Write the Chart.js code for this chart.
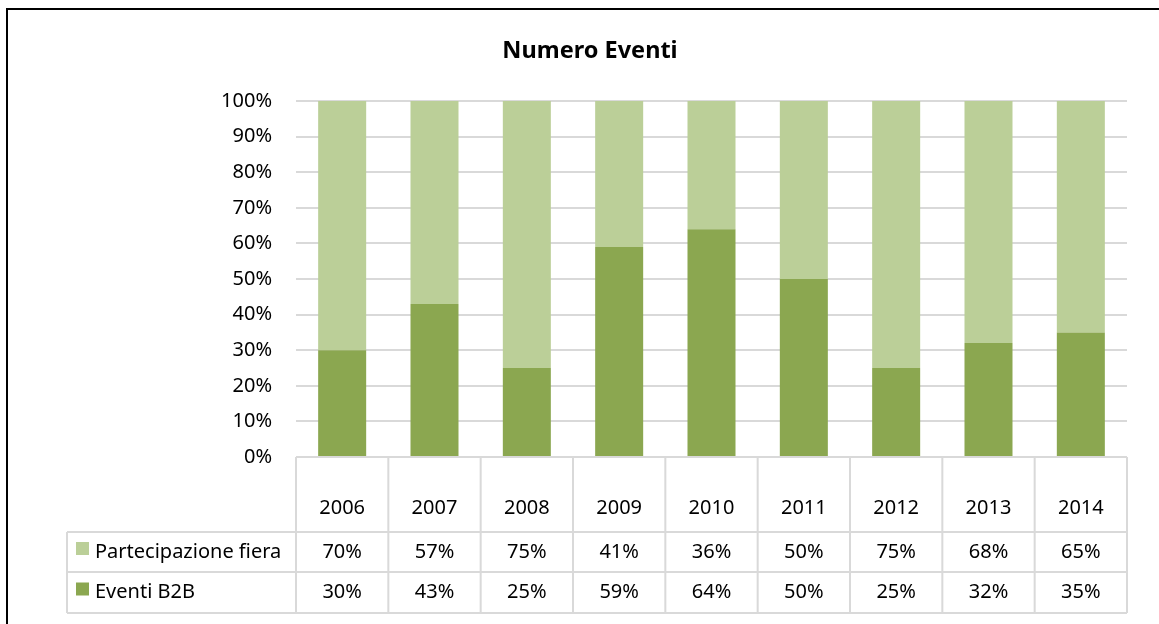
<!DOCTYPE html>
<html>
<head>
<meta charset="utf-8">
<script src="https://cdn.jsdelivr.net/npm/chart.js@4/dist/chart.umd.min.js"></script>
<style>
  html, body { margin: 0; padding: 0; background: #fff; }
  #chart { display: block; }
</style>
</head>
<body>
<canvas id="chart" width="1159" height="624"></canvas>
<script>
var years = ['2006', '2007', '2008', '2009', '2010', '2011', '2012', '2013', '2014'];
var eventiB2B = [30, 43, 25, 59, 64, 50, 25, 32, 35];
var fiera = [70, 57, 75, 41, 36, 50, 75, 68, 65];
var yTicks = [0, 10, 20, 30, 40, 50, 60, 70, 80, 90, 100];

var FONT = "'Noto Sans', 'Open Sans', sans-serif";
var DARK = '#8BA750';
var LIGHT = '#BBCF98';
var LINE = '#d9d9d9';

// border, title and the data table under the plot
var tablePlugin = {
	id: 'dataTable',
	afterDraw: function(chart) {
		var ctx = chart.ctx;
		var xs = chart.scales.x;
		var area = chart.chartArea;
		var step = xs.getPixelForValue(1) - xs.getPixelForValue(0);
		var left = area.left, right = area.right, top = area.bottom;
		var legendLeft = 67;
		var rowLines = [532, 572, 613];

		ctx.save();
		// outer frame (only top and left edges fall inside the picture)
		ctx.strokeStyle = '#000';
		ctx.lineWidth = 2;
		ctx.strokeRect(7, 9, 1165, 630);

		// title
		ctx.fillStyle = '#000';
		ctx.font = 'bold 23.5px ' + FONT;
		ctx.textAlign = 'center';
		ctx.textBaseline = 'middle';
		ctx.fillText('Numero Eventi', 590, 51);

		// grid of the table
		ctx.strokeStyle = LINE;
		ctx.lineWidth = 2;
		ctx.beginPath();
		ctx.moveTo(left, top); ctx.lineTo(right, top);
		for (var r = 0; r < rowLines.length; r++) {
			ctx.moveTo(legendLeft, rowLines[r]); ctx.lineTo(right, rowLines[r]);
		}
		for (var i = 0; i <= years.length; i++) {
			var xe = xs.getPixelForValue(0) - step / 2 + i * step;
			ctx.moveTo(xe, top); ctx.lineTo(xe, rowLines[2]);
		}
		ctx.moveTo(legendLeft, rowLines[0]); ctx.lineTo(legendLeft, rowLines[2]);
		ctx.stroke();

		// texts
		ctx.font = '20px ' + FONT;
		ctx.fillStyle = '#000';
		var rowMid = [(top + rowLines[0]) / 2 + 14, (rowLines[0] + rowLines[1]) / 2, (rowLines[1] + rowLines[2]) / 2];
		for (var i = 0; i < years.length; i++) {
			var cx = xs.getPixelForValue(i);
			ctx.fillText(years[i], cx, rowMid[0]);
			ctx.fillText(fiera[i] + '%', cx, rowMid[1]);
			ctx.fillText(eventiB2B[i] + '%', cx, rowMid[2]);
		}

		// legend keys in the first column
		var keys = [[LIGHT, 'Partecipazione fiera'], [DARK, 'Eventi B2B']];
		ctx.textAlign = 'left';
		for (var k = 0; k < keys.length; k++) {
			ctx.fillStyle = keys[k][0];
			ctx.fillRect(76, rowMid[k + 1] - 10, 13, 13);
			ctx.fillStyle = '#000';
			ctx.fillText(keys[k][1], 95, rowMid[k + 1]);
		}
		ctx.restore();
	}
};

var ctx = document.getElementById('chart').getContext('2d');
var chart = new Chart(ctx, {
	type: 'bar',
	data: {
		labels: years,
		datasets: [
			{ label: 'Eventi B2B', data: eventiB2B, backgroundColor: DARK, barPercentage: 0.52, categoryPercentage: 1 },
			{ label: 'Partecipazione fiera', data: fiera, backgroundColor: LIGHT, barPercentage: 0.52, categoryPercentage: 1 }
		]
	},
	options: {
		responsive: false,
		animation: false,
		layout: { padding: { top: 101, left: 0, right: 32, bottom: 167 } },
		plugins: {
			legend: { display: false },
			title: { display: false },
			tooltip: { enabled: false }
		},
		scales: {
			x: { stacked: true, display: false },
			y: {
				stacked: true,
				min: 0,
				max: 100,
				afterBuildTicks: function(scale) {
					scale.ticks = yTicks.map(function(v) { return { value: v }; });
				},
				afterFit: function(scale) { scale.width = 296; },
				border: { display: false },
				grid: { color: LINE, lineWidth: 2, drawTicks: false },
				ticks: {
					padding: 24,
					color: '#000',
					font: { family: FONT, size: 20 },
					callback: function(v) { return v + '%'; }
				}
			}
		}
	},
	plugins: [tablePlugin]
});
</script>
</body>
</html>
